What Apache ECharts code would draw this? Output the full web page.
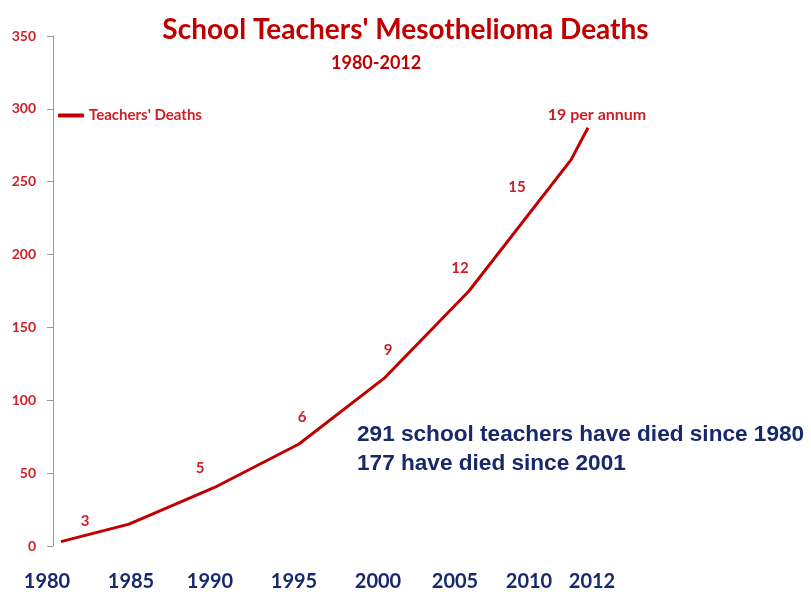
<!DOCTYPE html>
<html><head><meta charset="utf-8">
<script src="https://cdn.jsdelivr.net/npm/echarts@6/dist/echarts.min.js"></script>
<style>html,body{margin:0;padding:0;background:#fff}#c{width:811px;height:592px}</style>
</head><body><div id="c"></div>
<script>
// ---- data ----
const years = [1981, 1985, 1990, 1995, 2000, 2005, 2011, 2012];
const deaths = [3, 15, 40, 70, 115, 175, 265, 287];
const xTickYears = [1980, 1985, 1990, 1995, 2000, 2005, 2010, 2012];
const yTickValues = [0, 50, 100, 150, 200, 250, 300, 350];
const rateLabels = ['3', '5', '6', '9', '12', '15', '19 per annum'];
const summaryLines = ['291 school teachers have died since 1980', '177 have died since 2001'];
const seriesName = "Teachers' Deaths";
const titleText = "School Teachers' Mesothelioma Deaths";
const subtitleText = '1980-2012';

// ---- layout / style ----
const RED = '#c00000';
const LABEL_RED = '#cc1f26';
const NAVY = '#17296b';
const FONT = 'Lato, "Open Sans", sans-serif';
const rateLabelPos = [[85,521],[200,468],[302,417],[388,350],[460,268],[517,187],[597,115]];
const xLabelShift = [3, 2, -4, -5, -6, -14, -25, 4];

const rich = {};
xTickYears.forEach((y, i) => {
  const d = xLabelShift[i];
  rich['n' + i] = {
    fontFamily: FONT, fontWeight: 'bold', fontSize: 20, color: NAVY,
    padding: [0, d < 0 ? -2 * d : 0, 0, d > 0 ? 2 * d : 0]
  };
});

const chart = echarts.init(document.getElementById('c'), null, {renderer: 'canvas'});
const graphics = [];
rateLabels.forEach((t, i) => {
  graphics.push({type: 'text', x: rateLabelPos[i][0], y: rateLabelPos[i][1],
    style: {text: t, fill: LABEL_RED, font: 'bold ' + (i === rateLabels.length - 1 ? 16 : 15) + 'px ' + FONT, align: 'center', verticalAlign: 'middle'}});
});
summaryLines.forEach((t, i) => {
  graphics.push({type: 'text', x: 357, y: 435 + i * 29,
    style: {text: t, fill: NAVY, font: 'bold 22.6px "Liberation Sans", Arial, sans-serif', align: 'left', verticalAlign: 'middle'}});
});

chart.setOption({
  animation: false,
  backgroundColor: '#fff',
  title: [
    {text: titleText, left: 'center', top: 11,
     textStyle: {fontFamily: FONT, fontWeight: 'bold', fontSize: 28, color: RED}},
    {text: subtitleText, left: 326, top: 49,
     textStyle: {fontFamily: FONT, fontWeight: 'bold', fontSize: 18, color: RED}}
  ],
  legend: {
    data: [seriesName], left: 58, top: 108, padding: 0, icon: 'roundRect', itemWidth: 26, itemHeight: 4,
    textStyle: {fontFamily: FONT, fontWeight: 'bold', fontSize: 15, color: LABEL_RED}
  },
  grid: {left: 44, right: 223, top: 36, bottom: 41, containLabel: false},
  xAxis: {
    type: 'value', min: 1980, max: 2012,
    axisLine: {show: false}, axisTick: {show: false}, splitLine: {show: false},
    axisLabel: {
      customValues: xTickYears, margin: 26,
      formatter: (v) => { const i = xTickYears.indexOf(v); return '{n' + i + '|' + v + '}'; },
      rich: rich,
      fontFamily: FONT, fontWeight: 'bold', fontSize: 20, color: NAVY
    }
  },
  yAxis: {
    type: 'value', min: 0, max: 350, interval: 50, offset: -9,
    axisLine: {show: true, lineStyle: {color: '#9a9a9a', width: 1}},
    axisTick: {show: true, inside: false, length: 6, lineStyle: {color: '#9a9a9a'}},
    splitLine: {show: false},
    axisLabel: {
      customValues: yTickValues, margin: 17,
      fontFamily: FONT, fontWeight: 'bold', fontSize: 14, color: LABEL_RED
    }
  },
  series: [{
    name: seriesName, type: 'line',
    data: years.map((y, i) => [y, deaths[i]]),
    showSymbol: false, symbol: 'none',
    lineStyle: {color: RED, width: 3},
    itemStyle: {color: RED}
  }],
  graphic: graphics
});
</script>
</body></html>
